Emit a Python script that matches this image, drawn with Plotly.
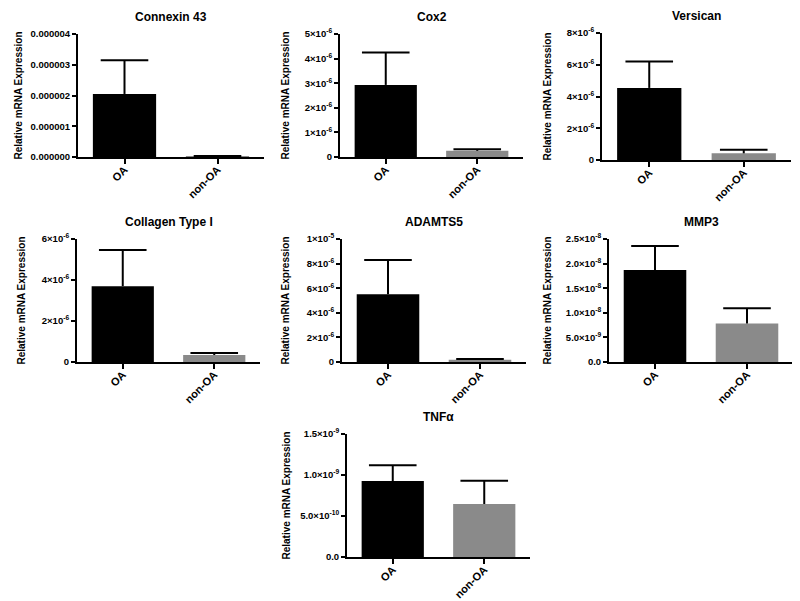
import plotly.graph_objects as go

# ---------------- data ----------------
groups = ["OA", "non-OA"]
genes = ["Connexin 43", "Cox2", "Versican", "Collagen Type I", "ADAMTS5", "MMP3", "TNFα"]

connexin43_mean = [2.05e-6, 0.02e-6]
connexin43_upper = [3.15e-6, 0.03e-6]
cox2_mean = [2.93e-6, 0.25e-6]
cox2_upper = [4.25e-6, 0.31e-6]
versican_mean = [4.54e-6, 0.42e-6]
versican_upper = [6.20e-6, 0.64e-6]
collagen1_mean = [3.70e-6, 0.34e-6]
collagen1_upper = [5.46e-6, 0.44e-6]
adamts5_mean = [5.50e-6, 0.18e-6]
adamts5_upper = [8.30e-6, 0.24e-6]
mmp3_mean = [1.87e-8, 0.78e-8]
mmp3_upper = [2.36e-8, 1.09e-8]
tnfa_mean = [0.927e-9, 0.646e-9]
tnfa_upper = [1.12e-9, 0.93e-9]

connexin43_ticks = [0, 1e-6, 2e-6, 3e-6, 4e-6]
connexin43_ticktext = ["0.000000", "0.000001", "0.000002", "0.000003", "0.000004"]
cox2_ticks = [0, 1e-6, 2e-6, 3e-6, 4e-6, 5e-6]
cox2_ticktext = ["0", "1×10<sup>-6</sup>", "2×10<sup>-6</sup>", "3×10<sup>-6</sup>", "4×10<sup>-6</sup>", "5×10<sup>-6</sup>"]
versican_ticks = [0, 2e-6, 4e-6, 6e-6, 8e-6]
versican_ticktext = ["0", "2×10<sup>-6</sup>", "4×10<sup>-6</sup>", "6×10<sup>-6</sup>", "8×10<sup>-6</sup>"]
collagen1_ticks = [0, 2e-6, 4e-6, 6e-6]
collagen1_ticktext = ["0", "2×10<sup>-6</sup>", "4×10<sup>-6</sup>", "6×10<sup>-6</sup>"]
adamts5_ticks = [0, 2e-6, 4e-6, 6e-6, 8e-6, 1e-5]
adamts5_ticktext = ["0", "2×10<sup>-6</sup>", "4×10<sup>-6</sup>", "6×10<sup>-6</sup>", "8×10<sup>-6</sup>", "1×10<sup>-5</sup>"]
mmp3_ticks = [0, 0.5e-8, 1.0e-8, 1.5e-8, 2.0e-8, 2.5e-8]
mmp3_ticktext = ["0.0", "5.0×10<sup>-9</sup>", "1.0×10<sup>-8</sup>", "1.5×10<sup>-8</sup>", "2.0×10<sup>-8</sup>", "2.5×10<sup>-8</sup>"]
tnfa_ticks = [0, 0.5e-9, 1.0e-9, 1.5e-9]
tnfa_ticktext = ["0.0", "5.0×10<sup>-10</sup>", "1.0×10<sup>-9</sup>", "1.5×10<sup>-9</sup>"]

means = [connexin43_mean, cox2_mean, versican_mean, collagen1_mean, adamts5_mean, mmp3_mean, tnfa_mean]
uppers = [connexin43_upper, cox2_upper, versican_upper, collagen1_upper, adamts5_upper, mmp3_upper, tnfa_upper]
tickvals = [connexin43_ticks, cox2_ticks, versican_ticks, collagen1_ticks, adamts5_ticks, mmp3_ticks, tnfa_ticks]
ticktexts = [connexin43_ticktext, cox2_ticktext, versican_ticktext, collagen1_ticktext,
             adamts5_ticktext, mmp3_ticktext, tnfa_ticktext]

# ---------------- layout (pixel boxes in page coords: left, right, bottom, top) ----------------
W, H = 800, 601
OFFX, OFFY = 4, 8  # page offset of the figure
boxes = [
    (74, 260, 157, 34),
    (336, 519, 157, 34),
    (598, 787, 160, 33),
    (73, 256, 362, 239),
    (338, 522, 362, 239),
    (605, 789, 362, 239),
    (343, 526, 557, 434),
]
ytitle_x = [14, 281, 543, 17, 281, 543, 282]
bar_colors = ["#000000", "#8a8a8a"]
FONT = "Liberation Sans, Arial, Helvetica, sans-serif"


def px(x):
    return (x - OFFX) / W


def py(y):
    return 1 - (y - OFFY) / H


fig = go.Figure()
annotations = []
layout_axes = {}

for i, (gene, m, u, tv, tt, box, ytx) in enumerate(
        zip(genes, means, uppers, tickvals, ticktexts, boxes, ytitle_x)):
    n = i + 1
    xa = "x" if n == 1 else f"x{n}"
    ya = "y" if n == 1 else f"y{n}"
    err = [uu - mm for uu, mm in zip(u, m)]
    # bars with error stems (no caps)
    fig.add_trace(go.Bar(
        x=groups, y=m, xaxis=xa, yaxis=ya, width=0.68,
        marker=dict(color=bar_colors, line=dict(width=0)),
        error_y=dict(type="data", array=err, arrayminus=[0, 0], symmetric=False,
                     color="black", thickness=2, width=0),
        showlegend=False, hoverinfo="skip",
    ))
    # caps at the top of the error bars only
    fig.add_trace(go.Scatter(
        x=groups, y=u, xaxis=xa, yaxis=ya, mode="markers",
        marker=dict(symbol="line-ew", size=34, color="black",
                    line=dict(color="black", width=2)),
        showlegend=False, hoverinfo="skip", cliponaxis=False,
    ))
    left, right, bottom, top = box
    xkey = "xaxis" if n == 1 else f"xaxis{n}"
    ykey = "yaxis" if n == 1 else f"yaxis{n}"
    layout_axes[xkey] = dict(
        domain=[px(left), px(right)], anchor=ya, range=[-0.5, 1.5], automargin=False,
        showline=True, linecolor="black", linewidth=2, showgrid=False, zeroline=False,
        ticks="outside", ticklen=5, tickwidth=1.6, tickcolor="black",
        tickangle=-45, ticklabelstandoff=-5,
        tickfont=dict(family=FONT, size=11, color="black", weight="bold"),
        fixedrange=True,
    )
    layout_axes[ykey] = dict(
        domain=[py(bottom), py(top)], anchor=xa, range=[0, tv[-1]], automargin=False,
        showline=True, linecolor="black", linewidth=2, showgrid=False, zeroline=False,
        ticks="outside", ticklen=4, tickwidth=1.6, tickcolor="black",
        tickmode="array", tickvals=tv, ticktext=tt,
        tickfont=dict(family=FONT, size=9.5, color="black", weight="bold"),
        fixedrange=True,
    )
    annotations.append(dict(
        text=f"<b>{gene}</b>", x=px((left + right) / 2), y=py(top - 17),
        xref="paper", yref="paper", showarrow=False, xanchor="center", yanchor="middle",
        font=dict(family=FONT, size=12, color="black"),
    ))
    annotations.append(dict(
        text="<b>Relative mRNA Expression</b>", x=px(ytx), y=py((bottom + top) / 2),
        xref="paper", yref="paper", showarrow=False, textangle=-90,
        xanchor="center", yanchor="middle",
        font=dict(family=FONT, size=10, color="black"),
    ))

fig.update_layout(
    width=W, height=H, margin=dict(l=0, r=0, t=0, b=0, autoexpand=False),
    paper_bgcolor="white", plot_bgcolor="white",
    font=dict(family=FONT, color="black"),
    annotations=annotations, bargap=0.3,
    **layout_axes,
)

fig.write_html("out.html")
